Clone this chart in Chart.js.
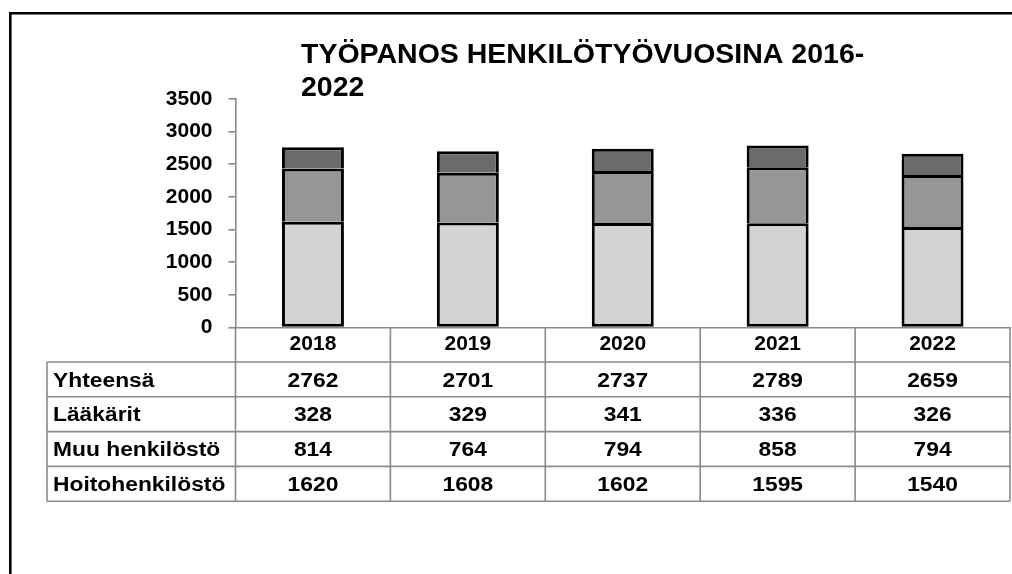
<!DOCTYPE html>
<html>
<head>
<meta charset="utf-8">
<script src="https://cdn.jsdelivr.net/npm/chart.js@4/dist/chart.umd.min.js"></script>
<style>
  html, body { margin: 0; padding: 0; background: #fff; }
  #grafico { display: block; }
</style>
</head>
<body>
<canvas id="grafico" width="1012" height="574"></canvas>
<script>
  const vuodet = ["2018", "2019", "2020", "2021", "2022"];
  const hoitohenkilosto = [1620, 1608, 1602, 1595, 1540];
  const muuHenkilosto = [814, 764, 794, 858, 794];
  const laakarit = [328, 329, 341, 336, 326];
  const yhteensa = [2762, 2701, 2737, 2789, 2659];
  const yMax = 3500;
  const yStep = 500;

  const otsikko = ["TYÖPANOS HENKILÖTYÖVUOSINA 2016-", "2022"];
  const rivit = [
    ["Yhteensä", yhteensa],
    ["Lääkärit", laakarit],
    ["Muu henkilöstö", muuHenkilosto],
    ["Hoitohenkilöstö", hoitohenkilosto],
  ];

  const fontti = "'Liberation Sans', Arial, sans-serif";
  const viivaHarmaa = "#8a8a8a";

  // venytetty teksti (Excelin leveämpi fontti)
  function teksti(ctx, str, x, y, align) {
    ctx.save();
    ctx.translate(x, y);
    ctx.scale(1.17, 1);
    ctx.textAlign = align;
    ctx.fillText(str, 0, 0);
    ctx.restore();
  }

  const taulukko = {
    id: "taulukko",
    afterDraw(chart) {
      const ctx = chart.ctx;
      const xs = chart.scales.x;
      const area = chart.chartArea;
      const leveys = xs.getPixelForValue(1) - xs.getPixelForValue(0);
      const ylin = area.bottom;
      const otsRivi = 34.5;
      const riviKork = 34.8;
      const vasen = 47;

      ctx.save();
      // kehys
      ctx.strokeStyle = "#000";
      ctx.lineWidth = 2.6;
      ctx.beginPath();
      ctx.moveTo(10.3, 574);
      ctx.lineTo(10.3, 13.3);
      ctx.lineTo(1012, 13.3);
      ctx.stroke();

      // otsikko
      ctx.fillStyle = "#000";
      ctx.font = "bold 28.5px " + fontti;
      ctx.textAlign = "left";
      ctx.textBaseline = "alphabetic";
      ctx.fillText(otsikko[0], 301, 63);
      ctx.fillText(otsikko[1], 301, 96);

      // taulukon viivat
      ctx.strokeStyle = viivaHarmaa;
      ctx.lineWidth = 1.6;
      const ala = ylin + otsRivi + riviKork * rivit.length;
      ctx.beginPath();
      for (let i = 0; i <= vuodet.length; i++) {
        const x = xs.getPixelForValue(0) - leveys / 2 + i * leveys;
        ctx.moveTo(x, ylin);
        ctx.lineTo(x, ala);
      }
      ctx.moveTo(vasen, ylin + otsRivi);
      ctx.lineTo(vasen, ala);
      for (let r = 0; r <= rivit.length; r++) {
        const y = ylin + otsRivi + r * riviKork;
        ctx.moveTo(vasen, y);
        ctx.lineTo(area.right, y);
      }
      ctx.stroke();

      // taulukon tekstit
      ctx.fillStyle = "#000";
      ctx.font = "bold 19.5px " + fontti;
      ctx.textBaseline = "alphabetic";
      rivit.forEach((rivi, r) => {
        const y = ylin + otsRivi + r * riviKork + 24.5;
        teksti(ctx, rivi[0], vasen + 6, y, "left");
        rivi[1].forEach((arvo, i) => {
          teksti(ctx, String(arvo), xs.getPixelForValue(i), y, "center");
        });
      });
      ctx.restore();
    },
  };

  const grafico = document.getElementById("grafico").getContext("2d");

  // alin osa saa reunan joka puolelle, muut vain ylä- ja sivureunat
  const pylvas = (label, data, vari, alin) => ({
    label: label,
    data: data,
    backgroundColor: vari,
    borderColor: "#000",
    borderWidth: 3,
    borderSkipped: alin ? false : "start",
  });

  new Chart(grafico, {
    type: "bar",
    data: {
      labels: vuodet,
      datasets: [
        pylvas("Hoitohenkilöstö", hoitohenkilosto, "#d3d3d3", true),
        pylvas("Muu henkilöstö", muuHenkilosto, "#969696", false),
        pylvas("Lääkärit", laakarit, "#6b6b6b", false),
      ],
    },
    options: {
      responsive: false,
      animation: false,
      devicePixelRatio: 1,
      layout: { padding: { left: 0, right: 2, top: 99, bottom: 212 } },
      datasets: { bar: { categoryPercentage: 1, barPercentage: 0.4, inflateAmount: 0 } },
      scales: {
        x: {
          stacked: true,
          grid: { drawOnChartArea: false, drawTicks: false },
          border: { display: true, color: viivaHarmaa, width: 1.6 },
          ticks: {
            color: "#000",
            padding: 4,
            font: { family: fontti, size: 21, weight: "bold" },
          },
          afterFit(scale) { scale.height = 34.5; },
        },
        y: {
          stacked: true,
          min: 0,
          max: yMax,
          ticks: {
            stepSize: yStep,
            color: "#000",
            padding: 16,
            font: { family: fontti, size: 21, weight: "bold" },
            callback: (v) => String(v),
          },
          grid: { drawOnChartArea: false, drawTicks: true, tickLength: 7, color: viivaHarmaa, lineWidth: 1.6 },
          border: { display: true, color: viivaHarmaa, width: 1.6 },
          afterFit(scale) { scale.width = 235.5; },
        },
      },
      plugins: {
        legend: { display: false },
        tooltip: { enabled: false },
      },
    },
    plugins: [taulukko],
  });
</script>
</body>
</html>
